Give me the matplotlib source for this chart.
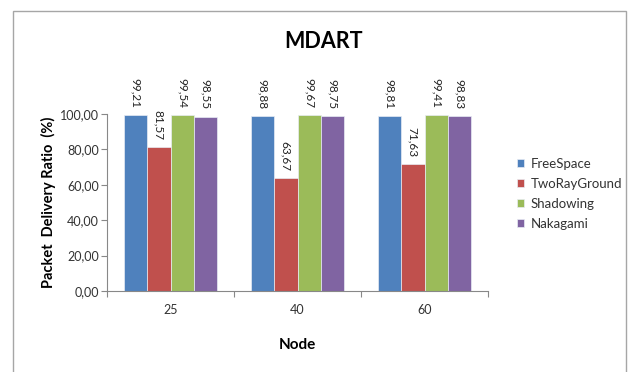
import matplotlib
matplotlib.use("Agg")
import matplotlib.pyplot as plt
import numpy as np
from matplotlib.patches import Rectangle

nodes = ["25", "40", "60"]
series = ["FreeSpace", "TwoRayGround", "Shadowing", "Nakagami"]
freespace = [99.21, 98.88, 98.81]
tworayground = [81.57, 63.67, 71.63]
shadowing = [99.54, 99.67, 99.41]
nakagami = [98.55, 98.75, 98.83]
colors = ["#4F81BD", "#C0504D", "#9BBB59", "#8064A2"]
yticks = [0, 20, 40, 60, 80, 100]

plt.rcParams["font.family"] = ["Lato", "DejaVu Sans"]

fig = plt.figure(figsize=(6.35, 3.72), dpi=100)
fig.patch.set_facecolor("white")
fig.add_artist(Rectangle((13 / 635, -0.05), 613 / 635, 1 - 11 / 372 + 0.05,
                         transform=fig.transFigure, fill=False,
                         edgecolor="#A6A6A6", linewidth=1.0))

ax = fig.add_axes([107 / 635, 1 - 291 / 372, 381 / 635, 177 / 372])
x = np.arange(len(nodes))
bw = 0.183
values = [freespace, tworayground, shadowing, nakagami]
for i, (name, vals, c) in enumerate(zip(series, values, colors)):
    pos = x + (i - 1.5) * bw
    ax.bar(pos, vals, bw, color=c, edgecolor="#E8ECF4", linewidth=0.5,
           label=name, clip_on=False, zorder=2)
    for p, v in zip(pos, vals):
        ax.annotate(f"{v:.2f}".replace(".", ","), (p, v), xytext=(0, 5),
                    textcoords="offset points", rotation=270,
                    ha="center", va="bottom", fontsize=8.5, color="#222222")

ax.set_xlim(-0.5, 2.5)
ax.set_ylim(0, 100)
ax.set_yticks(yticks)
ax.set_yticklabels([f"{t:.2f}".replace(".", ",") for t in yticks])
ax.set_xticks(x)
ax.set_xticklabels(nodes)
ax.set_xticks([-0.5, 0.5, 1.5, 2.5], minor=True)
ax.tick_params(axis="x", which="major", length=0, pad=9, labelsize=9, colors="#333333")
ax.tick_params(axis="x", which="minor", length=4, color="#888888", width=0.8)
ax.tick_params(axis="y", length=4, color="#888888", width=0.8, labelsize=9,
               labelcolor="#333333", pad=2)
for s in ["top", "right"]:
    ax.spines[s].set_visible(False)
for s in ["left", "bottom"]:
    ax.spines[s].set_color("#888888")
    ax.spines[s].set_linewidth(0.8)

ax.set_ylabel("Packet  Delivery Ratio  (%)", fontsize=10.5, fontweight="bold", labelpad=3)
ax.set_xlabel("Node", fontsize=11, fontweight="bold", labelpad=16)
fig.text(324 / 635, 1 - 42 / 372, "MDART", fontsize=15.5, fontweight="bold",
         ha="center", va="center")

leg = ax.legend(loc="center left", bbox_to_anchor=(1.045, 0.55), frameon=False,
                fontsize=9.5, handlelength=0.55, handleheight=0.55,
                handletextpad=0.5, labelspacing=0.6)
for t in leg.get_texts():
    t.set_color("#333333")

fig.savefig("out.png", dpi=100)
